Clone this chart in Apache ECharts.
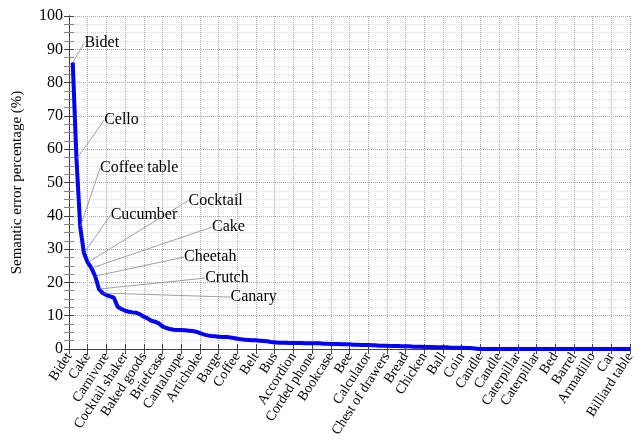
<!DOCTYPE html>
<html>
<head>
<meta charset="utf-8">
<script src="https://cdn.jsdelivr.net/npm/echarts@6/dist/echarts.min.js"></script>
<style>
  html, body { margin: 0; padding: 0; background: #fff; }
  #chart { width: 639px; height: 443px; }
</style>
</head>
<body>
<div id="chart"></div>
<script>
// tick labels on the x axis, one every 5 ranks (0, 5, ..., 150)
const tickLabels = [
  "Bidet", "Cake", "Carnivore", "Cocktail shaker", "Baked goods", "Briefcase",
  "Cantaloupe", "Artichoke", "Barge", "Coffee", "Belt", "Bus", "Accordion",
  "Corded phone", "Bookcase", "Bee", "Calculator", "Chest of drawers", "Bread",
  "Chicken", "Ball", "Coin", "Candle", "Candle", "Caterpillar", "Caterpillar",
  "Bed", "Barrel", "Armadillo", "Car", "Billiard table"
]
const tickStep = 5

// semantic error percentage per rank, starting at rank 1
const errorValues = [
  86, 57, 36.6, 28.8, 26, 24.3, 21.9, 18, 16.8, 16.2,
  15.8, 15.4, 12.7, 12.0, 11.5, 11.2, 11.0, 10.9, 10.4, 9.7,
  9.2, 8.5, 8.2, 7.7, 6.8, 6.3, 6.0, 5.8, 5.7, 5.7,
  5.6, 5.5, 5.4, 5.2, 4.8, 4.4, 4.1, 3.9, 3.8, 3.7,
  3.6, 3.6, 3.5, 3.3, 3.1, 2.9, 2.8, 2.7, 2.6, 2.6,
  2.5, 2.4, 2.3, 2.1, 2.0, 1.9, 1.9, 1.9, 1.8, 1.8,
  1.8, 1.8, 1.7, 1.7, 1.7, 1.7, 1.7, 1.6, 1.6, 1.5,
  1.5, 1.5, 1.4, 1.4, 1.4, 1.3, 1.3, 1.2, 1.2, 1.2,
  1.1, 1.1, 1.0, 1.0, 1.0, 0.9, 0.9, 0.9, 0.8, 0.8,
  0.8, 0.7, 0.7, 0.7, 0.6, 0.6, 0.6, 0.5, 0.5, 0.5,
  0.5, 0.4, 0.4, 0.4, 0.4, 0.3, 0.3, 0.2, 0.1, 0,
  0, 0, 0, 0, 0, 0, 0, 0, 0, 0,
  0, 0, 0, 0, 0, 0, 0, 0, 0, 0,
  0, 0, 0, 0, 0, 0, 0, 0, 0, 0,
  0, 0, 0, 0, 0, 0, 0, 0, 0, 0
]

// names pinned to the first ranks
const pinNames = ["Bidet", "Cello", "Coffee table", "Cucumber", "Cocktail", "Cake", "Cheetah", "Crutch", "Canary"]
// pin text offset from its point (px)
const pinOffsets = [[29, -20], [45, -39], [59, -59], [60, -38], [128, -62], [137, -41], [115, -19], [128, -11], [151, 4]]

const serif = "Liberation Serif"
const frame = "#444"

const seriesData = errorValues.map((v, i) => {
  const item = { value: [i + 1, v] }
  if (i < pinNames.length) {
    item.label = { show: true, formatter: pinNames[i] }
  }
  return item
})

const myChart = echarts.init(document.getElementById("chart"))
myChart.setOption({
  animation: false,
  grid: { left: 69, right: 9, top: 16, bottom: 94 },
  xAxis: [
    {
      type: "value",
      min: 0,
      max: (tickLabels.length - 1) * tickStep,
      interval: tickStep,
      axisLine: { lineStyle: { color: frame, width: 1 } },
      axisTick: { inside: true, length: 5, lineStyle: { color: frame } },
      axisLabel: {
        rotate: 57,
        margin: 5,
        fontFamily: serif,
        fontSize: 14,
        color: "#000",
        formatter: (v) => tickLabels[Math.round(v / tickStep)] || "",
      },
      splitLine: { show: true, lineStyle: { color: "#aaa", type: "dotted", width: 1 } },
    },
    {
      type: "value",
      position: "top",
      min: 0,
      max: (tickLabels.length - 1) * tickStep,
      interval: tickStep,
      axisLine: { show: true, lineStyle: { color: frame, width: 1 } },
      axisTick: { inside: true, length: 5, lineStyle: { color: frame } },
      axisLabel: { show: false },
      splitLine: { show: false },
    },
  ],
  yAxis: [
    {
      type: "value",
      min: 0,
      max: 100,
      interval: 10,
      name: "Semantic error percentage (%)",
      nameLocation: "middle",
      nameGap: 44,
      nameTextStyle: { fontFamily: serif, fontSize: 15, color: "#000" },
      axisLine: { show: true, lineStyle: { color: frame, width: 1 } },
      axisTick: { inside: true, length: 5, lineStyle: { color: frame } },
      minorTick: { show: true, splitNumber: 4, length: 5, lineStyle: { color: "#888" } },
      axisLabel: { fontFamily: serif, fontSize: 16, color: "#000", margin: 6 },
      splitLine: { show: true, lineStyle: { color: "#aaa", type: "dotted", width: 1 } },
      minorSplitLine: { show: true, lineStyle: { color: "#ddd", type: "dotted", width: 1 } },
    },
    {
      type: "value",
      position: "right",
      min: 0,
      max: 100,
      interval: 10,
      axisLine: { show: true, lineStyle: { color: frame, width: 1 } },
      axisTick: { inside: true, length: 5, lineStyle: { color: frame } },
      minorTick: { show: true, splitNumber: 4, length: 5, lineStyle: { color: "#888" } },
      axisLabel: { show: false },
      splitLine: { show: false },
    },
  ],
  series: [
    {
      name: "error",
      type: "line",
      xAxisIndex: 0,
      yAxisIndex: 0,
      data: seriesData,
      showSymbol: true,
      symbol: "circle",
      symbolSize: 1,
      itemStyle: { color: "#0000ff" },
      lineStyle: { color: "#0000ff", width: 4 },
      label: {
        show: false,
        position: "inside",
        fontFamily: serif,
        fontSize: 16,
        color: "#000",
      },
      labelLine: { show: true, lineStyle: { color: "#888", width: 0.8 } },
      labelLayout: (params) => {
        const off = pinOffsets[params.dataIndex]
        if (!off) return {}
        return {
          x: params.rect.x + params.rect.width / 2 + off[0],
          y: params.rect.y + params.rect.height / 2 + off[1],
          align: "center",
          verticalAlign: "middle",
        }
      },
      z: 5,
    },
  ],
})
</script>
</body>
</html>
